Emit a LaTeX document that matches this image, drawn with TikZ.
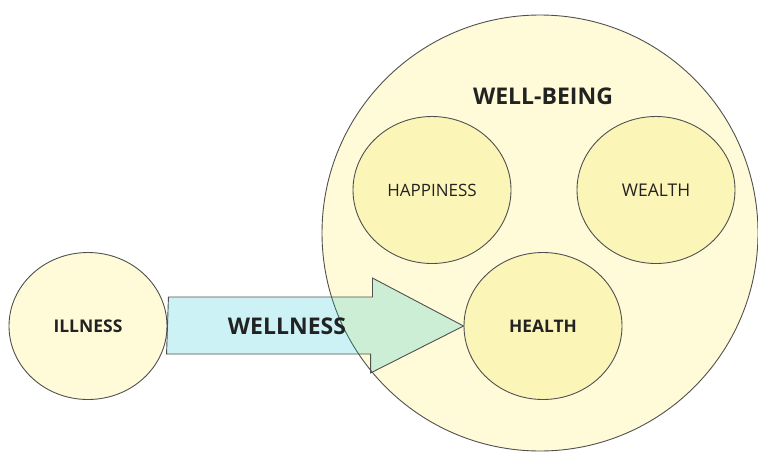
\documentclass[tikz,border=0pt]{standalone}
\usepackage{fontspec}
\setmainfont{Open Sans}
\usetikzlibrary{shapes.geometric, positioning, calc}
\definecolor{outercream}{RGB}{255, 251, 216}
\definecolor{innercream}{RGB}{252, 245, 184}
\definecolor{arrowcyan}{RGB}{0, 190, 205}
\definecolor{edgegray}{RGB}{80, 80, 80}
\definecolor{textgray}{RGB}{34, 34, 34}

\begin{document}
\begin{tikzpicture}[
        x=1pt, y=-1pt,
        blob/.style={ellipse, draw=edgegray, line width=0.9pt, inner sep=0pt, text=textgray,
            minimum width=158pt, minimum height=147pt, font=\fontsize{17.5}{20}\selectfont},
        inner/.style={blob, fill=innercream},
        blockarrow/.style={draw=edgegray, line width=0.9pt, fill=arrowcyan, fill opacity=0.2, line join=miter}
    ]
        \useasboundingbox (0,0) rectangle (758,453);

        % Well-being circle
        \node[circle, draw=edgegray, line width=0.9pt, fill=outercream, minimum size=436pt, inner sep=0pt] (wellbeing) at (540,233) {};
        \node[text=textgray, font=\fontsize{23}{27}\selectfont\bfseries] (wbtitle) at (543,96) {WELL-BEING};

        % Inner circles
        \node[inner, font=\fontsize{17}{20}\selectfont] (happiness) at (432,190) {HAPPINESS};
        \node[inner] (wealth) at (656,190) {WEALTH};
        \node[inner, font=\fontsize{17.3}{20}\selectfont\bfseries] (health) at (543,326) {HEALTH};

        % Illness
        \node[blob, fill=outercream, font=\fontsize{17.5}{20}\selectfont\bfseries] (illness) at (88,326) {ILLNESS};

        % Wellness arrow
        \draw[blockarrow] (illness.east) ++(1,-29) -- ++(204,0) -- ++(0,-19) -- (health.west)
            -- ++(-93,47) -- ++(0,-19) -- ++(-204,0) -- cycle;
        \node[text=textgray, font=\fontsize{23}{27}\selectfont\bfseries] (wellness) at (287,326) {WELLNESS};
\end{tikzpicture}
\end{document}
